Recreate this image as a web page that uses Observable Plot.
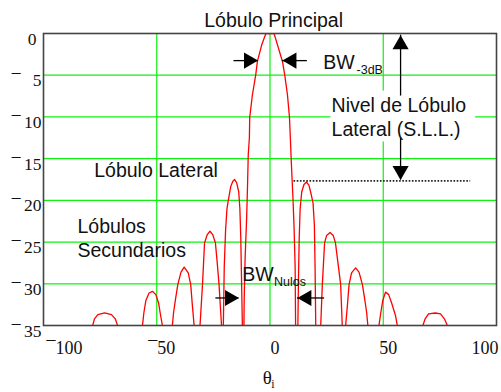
<!DOCTYPE html>
<html>
<head>
<meta charset="utf-8">
<script src="https://cdn.jsdelivr.net/npm/d3@7"></script>
<script src="https://cdn.jsdelivr.net/npm/@observablehq/plot@0.6"></script>
<style>
  html, body { margin: 0; padding: 0; background: #fff; }
  svg { display: block; }
</style>
</head>
<body>
<div id="chart"></div>
<script>
// ---- Radiation pattern (angle in degrees, level in dB).
// Values of -45 mark nulls that fall below the -35 dB floor of the chart.
const theta = [
  -100,
  -78.3, -77.5, -76, -73, -70, -68.3, -67.3,
  -62,
  -56.3, -55.7, -54.8, -53.4, -51.9, -50.4, -49.2, -48.3, -47.5,
  -45.3,
  -43.1, -42.6, -41.7, -40.7, -39.3, -37.9, -36.1, -35, -34.3, -33.5,
  -32.2,
  -30.9, -29.8, -28.9, -27.7, -26.5, -25.3, -24.1, -23.3, -22.5, -21.4,
  -21,
  -20.6, -20.2, -19.6, -19, -18.4, -17.3, -16.4, -15.6, -14.7, -13.8, -13.3, -12.9, -12.6, -12.2,
  -11.85,
  -11.5, -11.4, -11, -10.3, -9.9, -9.6, -9.1, -8.95, -7.76, -6.3, -5.56, -3.66, -1.8,
  0,
  1.8, 3.3, 5.5, 6.5, 7.7, 8.6, 9.1, 9.5, 10.1, 10.6, 11.1, 11.3,
  11.8,
  12.3, 12.6, 12.9, 13.3, 14, 15, 16.1, 17.2, 18.2, 19, 19.6, 19.9, 20.2,
  21.3,
  22.4, 23.1, 24.1, 25, 26.5, 27.9, 28.9, 30, 31.2, 31.9,
  32.6,
  33.4, 34.2, 34.9, 36, 37.8, 39.3, 40.8, 41.8, 42.7, 43.2,
  45.6,
  48.1, 48.9, 49.8, 51, 52.4, 53.7, 55.4, 56.2,
  62,
  67.5, 68.5, 70, 73, 75.3, 77, 78.3,
  100
];
const gainDb = [
  -45,
  -35, -34.2, -33.7, -33.5, -33.7, -34.2, -35,
  -45,
  -35, -33.5, -32, -31.1, -30.9, -31.3, -32.3, -33.8, -35,
  -45,
  -35, -33.5, -31.8, -30.1, -28.6, -28, -28.7, -30.1, -32.5, -35,
  -45,
  -35, -30.1, -25.1, -24.1, -23.7, -24.1, -25.1, -27.5, -30.1, -35,
  -45,
  -35, -28, -23.5, -21, -20, -18.3, -17.7, -17.5, -17.9, -19, -21, -24.5, -29, -35,
  -45,
  -35, -32, -27, -22, -18, -14.5, -12.5, -10.05, -7.34, -4.95, -3.35, -1.36, 0,
  0,
  0, -1.36, -3.35, -4.95, -7.34, -10.05, -13.3, -16, -19.5, -23, -28, -35,
  -45,
  -35, -29, -24.5, -21, -19, -18.1, -17.8, -18.2, -19.3, -20.3, -23, -28, -35,
  -45,
  -35, -30.1, -25.1, -24.2, -23.85, -24.2, -25.1, -27.5, -30.1, -35,
  -45,
  -35, -32.5, -30.1, -28.7, -28.1, -28.6, -30.1, -31.8, -33.5, -35,
  -45,
  -35, -33.5, -32, -31, -31.3, -32.3, -33.8, -35,
  -45,
  -35, -34.2, -33.6, -33.5, -33.6, -34.2, -35,
  -45
];

// ---- Axes and grid
const xTicks = [-100, -50, 0, 50, 100];
const yTicks = [0, -5, -10, -15, -20, -25, -30, -35];
const xGrid = [-50, 0, 50];
const yGrid = [-5, -10, -15, -20, -25, -30];

// ---- Annotations (positions in data units: degrees, dB)
const titleText = ["Lóbulo Principal"];
const titleX = [1.6];
const titleY = [0.8];

const labelText = ["BW", "Nivel de Lóbulo", "Lateral (S.L.L.)", "Lóbulo Lateral", "Lóbulos", "Secundarios", "BW"];
const labelX = [23.5, 27.2, 27.2, -77.6, -85, -85, -12.2];
const labelY = [-4.27, -9.45, -12.25, -17.15, -23.92, -26.84, -29.7];

const subText = ["-3dB", "Nulos"];
const subX = [38.2, 1.8];
const subY = [-4.8, -30.3];

const sllLevel = [{y: -17.67, x1: 10.6, x2: 88.6}];
const sllBox = [{x1: 26.9, x2: 90.8, y1: -6.9, y2: -13.0}];

const arrowsRight = [{x1: -15.9, x2: -5.3, y: -3.25}, {x1: -23.9, x2: -13.7, y: -31.7}];
const arrowsLeft = [{x1: 16.5, x2: 5.5, y: -3.25}, {x1: 24.1, x2: 12.1, y: -31.7}];
const arrowsUp = [{x: 57.65, y1: -7.5, y2: -0.2}];
const arrowsDown = [{x: 57.65, y1: -12.5, y2: -17.55}];

const axisTitle = [{t: "θ", x: -1.15, y: -42.0}];
const axisSub = [{t: "i", x: 0.6, y: -42.45}];

// ---- Build
const pattern = theta.map((t, i) => ({theta: t, db: gainDb[i]}));
const titles = titleText.map((t, i) => ({t, x: titleX[i], y: titleY[i]}));
const labels = labelText.map((t, i) => ({t, x: labelX[i], y: labelY[i]}));
const subs = subText.map((t, i) => ({t, x: subX[i], y: subY[i]}));

const GREEN = "#10f010";
const INK = "#111";
const SANS = "'Liberation Sans', Arial, sans-serif";
const SERIF = "'Liberation Serif', 'Times New Roman', serif";

const fmtX = d => d < 0 ? "\u00AF" + Math.abs(d) : String(d);
const fmtY = d => d < 0 ? "\u00AF\u2009" + (Math.abs(d) < 10 ? "\u2007" : "") + Math.abs(d) : String(d);

const axX = {tickSize: 0, tickPadding: 16, tickFormat: fmtX, fontSize: 18, fontFamily: SERIF, fill: INK, label: null};
const axY = {tickSize: 0, tickFormat: fmtY, fontSize: 17.5, fontFamily: SERIF, fill: INK, label: null, dy: 5.5};

const head = {symbol: "triangle", r: 6, fill: "black", stroke: "none"};

const chart = Plot.plot({
  width: 501,
  height: 392,
  marginLeft: 43,
  marginRight: 5,
  marginTop: 33,
  marginBottom: 67,
  x: {domain: [-100, 100]},
  y: {domain: [-35, 0]},
  style: {fontFamily: SANS, background: "white", overflow: "visible"},
  marks: [
    Plot.ruleX(xGrid, {stroke: GREEN, strokeWidth: 1.2}),
    Plot.ruleY(yGrid, {stroke: GREEN, strokeWidth: 1.2}),
    Plot.line(pattern, {x: "theta", y: "db", stroke: "#ff0000", strokeWidth: 1.3, clip: true}),
    Plot.ruleY(sllLevel, {y: "y", x1: "x1", x2: "x2", stroke: "#222", strokeWidth: 1.6, strokeDasharray: "1.6,1.6"}),
    Plot.rect(sllBox, {x1: "x1", x2: "x2", y1: "y1", y2: "y2", fill: "white"}),
    // arrow shafts
    Plot.ruleY(arrowsRight, {y: "y", x1: "x1", x2: "x2", stroke: "black", strokeWidth: 1.3}),
    Plot.ruleY(arrowsLeft, {y: "y", x1: "x1", x2: "x2", stroke: "black", strokeWidth: 1.3}),
    Plot.ruleX(arrowsUp, {x: "x", y1: "y1", y2: "y2", stroke: "black", strokeWidth: 1.3}),
    Plot.ruleX(arrowsDown, {x: "x", y1: "y1", y2: "y2", stroke: "black", strokeWidth: 1.3}),
    // arrow heads
    Plot.dot(arrowsRight, {x: "x2", y: "y", rotate: 90, dx: -9.3, ...head}),
    Plot.dot(arrowsLeft, {x: "x2", y: "y", rotate: -90, dx: 9.3, ...head}),
    Plot.dot(arrowsUp, {x: "x", y: "y2", rotate: 0, dy: 9.3, ...head}),
    Plot.dot(arrowsDown, {x: "x", y: "y2", rotate: 180, dy: -9.3, ...head}),
    Plot.frame({stroke: "#444", strokeWidth: 1.6}),
    // axes
    Plot.axisX([xTicks[0]], {...axX, textAnchor: "start", dx: 3}),
    Plot.axisX(xTicks.slice(1, -1), {...axX, textAnchor: "middle", dx: 5}),
    Plot.axisX([xTicks[xTicks.length - 1]], {...axX, textAnchor: "end", dx: 2}),
    Plot.axisY(yTicks.filter(d => d !== 0), {...axY, tickPadding: 2}),
    Plot.axisY(yTicks.filter(d => d === 0), {...axY, tickPadding: 7}),
    Plot.text(axisTitle, {x: "x", y: "y", text: "t", fontFamily: SERIF, fontSize: 19, fill: INK, textAnchor: "middle", lineAnchor: "bottom"}),
    Plot.text(axisSub, {x: "x", y: "y", text: "t", fontFamily: SERIF, fontSize: 12, fill: INK, textAnchor: "start", lineAnchor: "bottom"}),
    // annotations
    Plot.text(titles, {x: "x", y: "y", text: "t", fontSize: 19.5, fill: INK, textAnchor: "middle", lineAnchor: "bottom"}),
    Plot.text(labels, {x: "x", y: "y", text: "t", fontSize: 19.5, fill: INK, textAnchor: "start", lineAnchor: "bottom"}),
    Plot.text(subs, {x: "x", y: "y", text: "t", fontSize: 12.5, fill: INK, textAnchor: "start", lineAnchor: "bottom"})
  ]
});

document.getElementById("chart").appendChild(chart);
</script>
</body>
</html>
